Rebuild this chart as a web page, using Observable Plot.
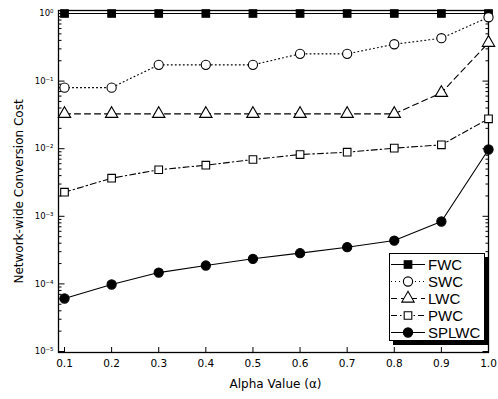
<!DOCTYPE html>
<html>
<head>
<meta charset="utf-8">
<script src="https://cdn.jsdelivr.net/npm/d3@7"></script>
<script src="https://cdn.jsdelivr.net/npm/@observablehq/plot@0.6"></script>
<style>
  body { margin: 0; background: #fff; }
  #wrap { position: relative; width: 498px; height: 399px; }
  #legend { position: absolute; left: 389px; top: 253px; width: 96px; height: 88px;
    border: 1px solid #000; background: #fff; box-shadow: 4px 4px 0 #000;
    font-family: "Liberation Sans", Arial, sans-serif; font-size: 15px; padding-top: 2px; box-sizing: border-box; }
  .row { display: flex; align-items: center; height: 17px; }
  .row svg { display: block; margin-left: 1px; }
  .row span { margin-left: 3px; line-height: 17px; }
</style>
</head>
<body>
<div id="wrap"></div>
<script>
const alpha = [0.1, 0.2, 0.3, 0.4, 0.5, 0.6, 0.7, 0.8, 0.9, 1.0];
const FWC   = [1, 1, 1, 1, 1, 1, 1, 1, 1, 1];
const SWC   = [0.080, 0.080, 0.174, 0.174, 0.174, 0.253, 0.253, 0.351, 0.431, 0.88];
const LWC   = [0.0328, 0.0328, 0.0328, 0.0328, 0.0328, 0.0328, 0.0328, 0.0328, 0.0671, 0.369];
const PWC   = [0.00227, 0.00366, 0.00488, 0.0057, 0.00692, 0.0082, 0.00887, 0.0102, 0.0114, 0.0277];
const SPLWC = [6.08e-5, 9.8e-5, 1.47e-4, 1.87e-4, 2.35e-4, 2.85e-4, 3.49e-4, 4.38e-4, 8.38e-4, 0.00973];

const seriesNames = ["FWC", "SWC", "LWC", "PWC", "SPLWC"];
const seriesValues = [FWC, SWC, LWC, PWC, SPLWC];
const xTicks = [0.1, 0.2, 0.3, 0.4, 0.5, 0.6, 0.7, 0.8, 0.9, 1.0];
const yTicks = [1e-5, 1e-4, 1e-3, 1e-2, 1e-1, 1];

const style = {
  FWC:   {dash: null,        symbol: "square",   fill: "black", r: 4.3},
  SWC:   {dash: "1,3",       symbol: "circle",   fill: "white", r: 4.6},
  LWC:   {dash: "6,4",       symbol: "triangle", fill: "white", r: 4.6},
  PWC:   {dash: "6,3,1.5,3", symbol: "square",   fill: "white", r: 4.3},
  SPLWC: {dash: null,        symbol: "circle",   fill: "black", r: 4.6}
};

const rows = seriesNames.flatMap((s, i) => alpha.map((a, j) => ({series: s, alpha: a, value: seriesValues[i][j]})));
const minorTicks = yTicks.slice(0, -1).flatMap(d => [2,3,4,5,6,7,8,9].map(m => m * d));
const supMap = {"-": "\u207B", "0": "\u2070", "1": "\u00B9", "2": "\u00B2", "3": "\u00B3", "4": "\u2074", "5": "\u2075"};
const fmtPow = d => "10" + String(Math.round(Math.log10(d))).replace(/./g, c => supMap[c]);
const blank = () => "";

const lineMarks = seriesNames.map(s => Plot.line(rows.filter(d => d.series === s), {
  x: "alpha", y: "value", stroke: "black", strokeWidth: 1.1, strokeDasharray: style[s].dash
}));
const dotMarks = seriesNames.map(s => Plot.dot(rows.filter(d => d.series === s), {
  x: "alpha", y: "value", symbol: () => style[s].symbol, r: style[s].r,
  fill: style[s].fill, stroke: "black", strokeWidth: 1.1
}));

const chart = Plot.plot({
  width: 498, height: 399,
  marginLeft: 58, marginRight: 10, marginTop: 10, marginBottom: 47,
  style: {fontFamily: "'DejaVu Sans', Verdana, sans-serif", background: "white"},
  x: {domain: [0.1, 1.0], insetLeft: 6, insetRight: 0, label: null},
  y: {type: "log", domain: [1e-5, 1], insetTop: 3, insetBottom: 1, label: null},
  symbol: {type: "identity"},
  marks: [
    Plot.axisX(xTicks, {anchor: "bottom", tickSize: 0, tickPadding: 7, tickFormat: d => d.toFixed(1), fontSize: 10.5, label: null}),
    Plot.axisX(xTicks, {anchor: "bottom", tickSize: -5, tickFormat: blank, label: null}),
    Plot.axisX(xTicks, {anchor: "top", tickSize: -5, tickFormat: blank, label: null}),
    Plot.axisY(yTicks, {anchor: "left", tickSize: 0, tickPadding: 5, tickFormat: fmtPow, fontSize: 8.5, label: null}),
    Plot.axisY(yTicks, {anchor: "left", tickSize: -6.5, tickFormat: blank, label: null}),
    Plot.axisY(minorTicks, {anchor: "left", tickSize: -3.5, tickFormat: blank, label: null}),
    Plot.axisY(yTicks, {anchor: "right", tickSize: -6.5, tickFormat: blank, label: null}),
    Plot.axisY(minorTicks, {anchor: "right", tickSize: -3.5, tickFormat: blank, label: null}),
    Plot.frame({stroke: "black", strokeWidth: 1.3}),
    ...lineMarks,
    ...dotMarks,
    Plot.text(["Network-wide Conversion Cost"], {frameAnchor: "left", textAnchor: "middle", rotate: -90, dx: -39, dy: 10, fontSize: 12, fill: "black"}),
    Plot.text(["Alpha Value (\u03B1)"], {frameAnchor: "bottom", textAnchor: "middle", dy: 35, dx: 2, fontSize: 12, fill: "black"})
  ]
});

const wrap = document.getElementById("wrap");
wrap.appendChild(chart);

const legend = document.createElement("div");
legend.id = "legend";
wrap.appendChild(legend);
const symTypes = {square: d3.symbolSquare, circle: d3.symbolCircle, triangle: d3.symbolTriangle};
seriesNames.forEach(s => {
  const row = d3.select(legend).append("div").attr("class", "row");
  const svg = row.append("svg").attr("width", 34).attr("height", 17);
  svg.append("line").attr("x1", 0).attr("x2", 34).attr("y1", 8.5).attr("y2", 8.5)
    .attr("stroke", "black").attr("stroke-width", 1.1).attr("stroke-dasharray", style[s].dash);
  svg.append("path").attr("transform", "translate(17,8.5)")
    .attr("d", d3.symbol().type(symTypes[style[s].symbol]).size(Math.PI * style[s].r * style[s].r)())
    .attr("fill", style[s].fill).attr("stroke", "black").attr("stroke-width", 1.1);
  row.append("span").text(s);
});
</script>
</body>
</html>
